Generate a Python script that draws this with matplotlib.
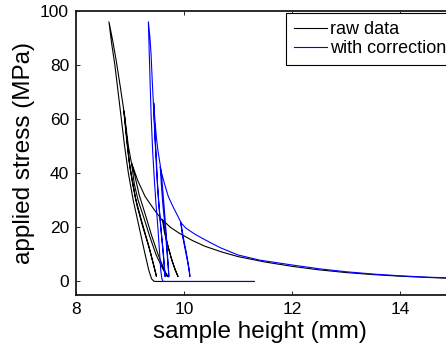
import matplotlib
matplotlib.use("Agg")
import matplotlib.pyplot as plt

# ---- data: raw data (black) ----
raw_x = [14.95, 14.5, 14.0, 13.5, 13.0, 12.5, 12.0, 11.5, 11.0, 10.7, 10.39, 10.15, 9.9, 9.75, 9.60,
         9.64, 9.70, 9.78, 9.85, 9.89, 9.84, 9.76, 9.68, 9.62,
         9.45, 9.28, 9.15, 9.03,
         9.08, 9.15, 9.25, 9.36, 9.48, 9.60, 9.68, 9.71, 9.64, 9.52, 9.40, 9.28, 9.17, 9.08, 9.02,
         8.97, 8.92, 8.89,
         8.93, 8.98, 9.05, 9.13, 9.24, 9.36, 9.45, 9.49, 9.44, 9.35, 9.22, 9.10, 9.00, 8.94, 8.88,
         8.82, 8.75, 8.68, 8.61,
         8.66, 8.72, 8.78, 8.84, 8.90, 8.97, 9.06, 9.17, 9.28, 9.35, 9.40, 9.44, 9.50, 11.3]
raw_y = [1.15, 1.5, 1.95, 2.55, 3.3, 4.3, 5.6, 7.2, 9.2, 10.9, 13.0, 15.2, 18.0, 20.0, 22.8,
         18.0, 13.0, 7.5, 3.8, 1.8, 4.0, 9.0, 15.0, 22.0,
         26.5, 31.4, 37.0, 43.7,
         36.0, 30.0, 24.0, 17.0, 10.0, 5.0, 2.0, 1.7, 4.0, 10.0, 17.0, 25.0, 32.0, 40.0, 44.5,
         50.0, 58.0, 63.0,
         55.0, 45.0, 36.0, 28.0, 20.0, 12.0, 5.0, 1.9, 6.0, 13.0, 22.0, 31.0, 42.0, 52.0, 64.0,
         72.0, 81.0, 89.0, 96.0,
         88.0, 80.0, 70.0, 60.0, 50.0, 40.0, 30.0, 20.0, 10.0, 4.0, 1.0, 0.1, 0.0, 0.0]

# ---- data: with correction (blue) ----
corr_x = [14.95, 14.5, 14.0, 13.5, 13.0, 12.5, 12.0, 11.4, 11.0, 10.67, 10.39, 10.2, 10.03, 9.94,
          9.97, 10.02, 10.07, 10.10, 10.11, 10.09, 10.04, 9.99, 9.94,
          9.89, 9.80, 9.71, 9.64, 9.58, 9.56,
          9.58, 9.61, 9.65, 9.68, 9.71, 9.72, 9.70, 9.67, 9.63, 9.59, 9.56,
          9.52, 9.49, 9.46, 9.44,
          9.46, 9.49, 9.51, 9.54, 9.58, 9.62, 9.65, 9.62, 9.57, 9.53, 9.49, 9.46, 9.43,
          9.41, 9.39, 9.37, 9.34,
          9.36, 9.39, 9.42, 9.45, 9.48, 9.52, 9.55, 9.57, 9.59, 9.61, 9.65, 11.3]
corr_y = [1.3, 1.6, 2.1, 2.75, 3.6, 4.7, 6.1, 7.9, 9.8, 12.5, 15.4, 17.5, 19.8, 21.8,
          17.0, 12.0, 7.0, 3.5, 1.8, 5.0, 11.0, 16.0, 22.0,
          24.0, 27.5, 31.4, 36.0, 40.5, 42.4,
          36.0, 28.0, 20.0, 12.0, 5.0, 1.8, 8.0, 18.0, 28.0, 38.0, 43.0,
          48.0, 53.0, 60.0, 66.0,
          55.0, 45.0, 35.0, 27.0, 18.0, 9.0, 1.8, 10.0, 20.0, 30.0, 42.0, 54.0, 67.0,
          75.0, 84.0, 90.0, 96.0,
          82.0, 62.0, 48.0, 38.0, 29.0, 19.0, 10.0, 4.0, 1.0, 0.1, 0.0, 0.0]

series_labels = ["raw data", "with correction"]
x_ticks = [8, 10, 12, 14]
y_ticks = [0, 20, 40, 60, 80, 100]

plt.rcParams['font.family'] = ['Liberation Sans', 'DejaVu Sans']

W, H = 446, 349
fig = plt.figure(figsize=(W / 100, H / 100), dpi=100)
ax_left, ax_right, ax_top, ax_bottom = 76, 508, 11, 295
ax = fig.add_axes([ax_left / W, (H - ax_bottom) / H,
                   (ax_right - ax_left) / W, (ax_bottom - ax_top) / H])

ax.plot(raw_x, raw_y, color='black', lw=0.8, label=series_labels[0])
ax.plot(corr_x, corr_y, color='#0000ff', lw=0.8, label=series_labels[1])

ax.set_xlim(8, 16)
ax.set_ylim(-5, 100)
ax.set_xticks(x_ticks)
ax.set_yticks(y_ticks)
ax.tick_params(direction='in', length=3, width=0.6, labelsize=12.5,
               top=True, right=True, pad=5)
for s in ax.spines.values():
    s.set_linewidth(1.3)
    s.set_color('#1a1a1a')

ax.set_xlabel("sample height (mm)", fontsize=17.5)
ax.set_ylabel("applied stress (MPa)", fontsize=17.5)
ax.xaxis.set_label_coords((260 - ax_left) / (ax_right - ax_left), -(332 - ax_bottom) / (ax_bottom - ax_top))
ax.yaxis.set_label_coords((24 - ax_left) / (ax_right - ax_left), 0.5)
ax.xaxis.label.set_va('center')
ax.yaxis.label.set_va('center')

leg = ax.legend(loc='upper left',
                bbox_to_anchor=((286 - ax_left) / (ax_right - ax_left), 1 - (13 - ax_top) / (ax_bottom - ax_top)),
                borderaxespad=0, fontsize=13, fancybox=False, framealpha=1,
                edgecolor='black', handlelength=1.8, handletextpad=0.2,
                labelspacing=0.1, borderpad=0.45)
leg.get_frame().set_linewidth(0.8)

fig.savefig("out.png", dpi=100)
